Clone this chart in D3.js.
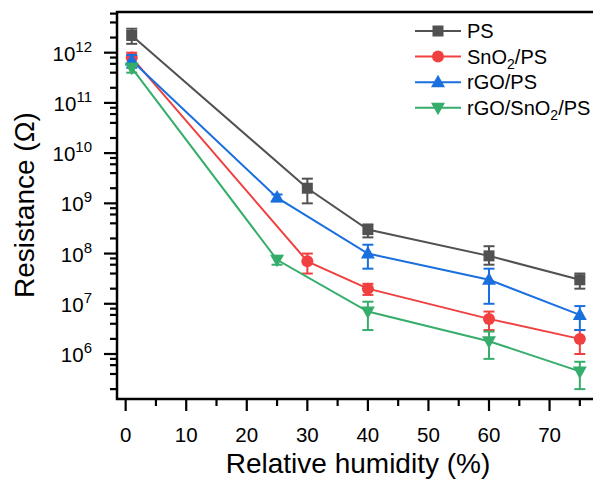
<!DOCTYPE html>
<html lang="en">
<head>
<meta charset="utf-8">
<title>Resistance vs humidity</title>
<script src="https://cdn.jsdelivr.net/npm/d3@7"></script>
<style>
  body { margin: 0; background: #fff; }
  text { font-family: "Liberation Sans", Arial, sans-serif; fill: #000; }
</style>
</head>
<body>
<script>
// humidity values (x) for each series
var humidityA = [1, 30, 40, 60, 75];
var humidityB = [1, 25, 40, 60, 75];

// resistance values and error bar limits (ohm)
var psVal = [2.2e12, 2e9, 3e8, 9e7, 3e7];
var psLo  = [1.5e12, 1e9, 2.1e8, 6e7, 2e7];
var psHi  = [3e12, 3.1e9, 3.8e8, 1.4e8, 4e7];

var snVal = [8e11, 7e7, 2e7, 5e6, 2e6];
var snLo  = [6e11, 4e7, 1.5e7, 3e6, 1e6];
var snHi  = [1e12, 1e8, 2.5e7, 7e6, 3e6];

var rgVal = [7e11, 1.3e9, 1e8, 3e7, 6e6];
var rgLo  = [5e11, 1.1e9, 5e7, 1e7, 3e6];
var rgHi  = [9e11, 1.5e9, 1.5e8, 5e7, 9e6];

var rsVal = [5e11, 7.5e7, 7e6, 1.8e6, 4.5e5];
var rsLo  = [4e11, 6e7, 3e6, 8e5, 2e5];
var rsHi  = [6e11, 9e7, 1.1e7, 2.8e6, 7e5];

var xTicks = [0, 10, 20, 30, 40, 50, 60, 70];
var xMinor = [5, 15, 25, 35, 45, 55, 65, 75];
var yExps = [6, 7, 8, 9, 10, 11, 12];

var series = [
  {name: "PS",          sub: null, x: humidityA, v: psVal, lo: psLo, hi: psHi, color: "#515151", shape: "square"},
  {name: "SnO2/PS",     sub: ["SnO", "2", "/PS"], x: humidityA, v: snVal, lo: snLo, hi: snHi, color: "#F14040", shape: "circle"},
  {name: "rGO/PS",      sub: null, x: humidityB, v: rgVal, lo: rgLo, hi: rgHi, color: "#1A6FDF", shape: "up"},
  {name: "rGO/SnO2/PS", sub: ["rGO/SnO", "2", "/PS"], x: humidityB, v: rsVal, lo: rsLo, hi: rsHi, color: "#37AD6B", shape: "down"}
];

var W = 593, H = 479;
var margin = {left: 117, top: 12, right: 598, bottom: 399};

var svg = d3.select("body").append("svg")
  .attr("width", W).attr("height", H);

var xScale = d3.scaleLinear().domain([-1.43, 78]).range([margin.left, margin.right]);
var yScale = d3.scaleLog().domain([Math.pow(10, 5.104), Math.pow(10, 12.81)]).range([margin.bottom, margin.top]);

// frame
svg.append("rect")
  .attr("x", margin.left).attr("y", margin.top)
  .attr("width", margin.right - margin.left).attr("height", margin.bottom - margin.top)
  .attr("fill", "none").attr("stroke", "#000").attr("stroke-width", 2.5);

// x axis ticks
var xAxisG = svg.append("g").attr("transform", "translate(0," + margin.bottom + ")");
xAxisG.selectAll("line.major").data(xTicks).enter().append("line")
  .attr("x1", function(d) { return xScale(d); })
  .attr("x2", function(d) { return xScale(d); })
  .attr("y1", 0).attr("y2", 12)
  .attr("stroke", "#000").attr("stroke-width", 2.2);
xAxisG.selectAll("line.minor").data(xMinor).enter().append("line")
  .attr("x1", function(d) { return xScale(d); })
  .attr("x2", function(d) { return xScale(d); })
  .attr("y1", 0).attr("y2", 7)
  .attr("stroke", "#000").attr("stroke-width", 2.2);
xAxisG.selectAll("text").data(xTicks).enter().append("text")
  .attr("x", function(d) { return xScale(d); })
  .attr("y", 43)
  .attr("text-anchor", "middle")
  .style("font-size", "20.5px")
  .text(function(d) { return d; });

// y axis ticks (log, minor at 2,4,6,8)
var yMinor = [];
for (var e = 5; e <= 12; e++) {
  [2, 4, 6, 8].forEach(function(m) {
    var v = m * Math.pow(10, e);
    if (v > yScale.domain()[0] && v < yScale.domain()[1]) yMinor.push(v);
  });
}
var yAxisG = svg.append("g").attr("transform", "translate(" + margin.left + ",0)");
yAxisG.selectAll("line.major").data(yExps).enter().append("line")
  .attr("x1", 0).attr("x2", -13)
  .attr("y1", function(d) { return yScale(Math.pow(10, d)); })
  .attr("y2", function(d) { return yScale(Math.pow(10, d)); })
  .attr("stroke", "#000").attr("stroke-width", 2.2);
yAxisG.selectAll("line.minor").data(yMinor).enter().append("line")
  .attr("x1", 0).attr("x2", -7)
  .attr("y1", function(d) { return yScale(d); })
  .attr("y2", function(d) { return yScale(d); })
  .attr("stroke", "#000").attr("stroke-width", 2.2);
var yl = yAxisG.selectAll("text").data(yExps).enter().append("text")
  .attr("x", -25)
  .attr("y", function(d) { return yScale(Math.pow(10, d)) + 8; })
  .attr("text-anchor", "end")
  .style("font-size", "20.5px");
yl.append("tspan").text("10");
yl.append("tspan").attr("dy", -9).style("font-size", "15px")
  .text(function(d) { return d; });

// axis titles
svg.append("text")
  .attr("x", 358).attr("y", 473)
  .attr("text-anchor", "middle")
  .style("font-size", "28px")
  .text("Relative humidity (%)");
svg.append("text")
  .attr("transform", "translate(34,205) rotate(-90)")
  .attr("text-anchor", "middle")
  .style("font-size", "28px")
  .text("Resistance (\u03A9)");

function drawMarker(g, shape, color, cx, cy) {
  if (shape == "square") {
    g.append("rect").attr("x", cx - 5.5).attr("y", cy - 5.5)
      .attr("width", 11).attr("height", 11).attr("fill", color);
  } else if (shape == "circle") {
    g.append("circle").attr("cx", cx).attr("cy", cy).attr("r", 6).attr("fill", color);
  } else if (shape == "up") {
    g.append("path").attr("d", "M" + cx + "," + (cy - 7.5) + "L" + (cx + 7) + "," + (cy + 5) + "L" + (cx - 7) + "," + (cy + 5) + "Z")
      .attr("fill", color);
  } else {
    g.append("path").attr("d", "M" + cx + "," + (cy + 7.5) + "L" + (cx + 7) + "," + (cy - 5) + "L" + (cx - 7) + "," + (cy - 5) + "Z")
      .attr("fill", color);
  }
}

var line = d3.line()
  .x(function(d) { return xScale(d[0]); })
  .y(function(d) { return yScale(d[1]); });

series.forEach(function(s) {
  var g = svg.append("g");
  var pts = s.x.map(function(x, i) { return [x, s.v[i], s.lo[i], s.hi[i]]; });
  g.append("path").attr("d", line(pts))
    .attr("fill", "none").attr("stroke", s.color).attr("stroke-width", 2);
  pts.forEach(function(p) {
    var cx = xScale(p[0]);
    var y1 = yScale(p[2]), y2 = yScale(p[3]);
    g.append("line").attr("x1", cx).attr("x2", cx).attr("y1", y1).attr("y2", y2)
      .attr("stroke", s.color).attr("stroke-width", 2);
    [y1, y2].forEach(function(yy) {
      g.append("line").attr("x1", cx - 5.5).attr("x2", cx + 5.5).attr("y1", yy).attr("y2", yy)
        .attr("stroke", s.color).attr("stroke-width", 2);
    });
    drawMarker(g, s.shape, s.color, cx, yScale(p[1]));
  });
});

// legend
var leg = svg.append("g");
series.forEach(function(s, i) {
  var cy = 31 + i * 25.6;
  leg.append("line").attr("x1", 415).attr("x2", 461).attr("y1", cy).attr("y2", cy)
    .attr("stroke", s.color).attr("stroke-width", 2);
  drawMarker(leg, s.shape, s.color, 438, cy);
  var t = leg.append("text").attr("x", 467).attr("y", cy + 7).style("font-size", "20px");
  if (s.sub) {
    t.append("tspan").text(s.sub[0]);
    t.append("tspan").attr("dy", 5).style("font-size", "14px").text(s.sub[1]);
    t.append("tspan").attr("dy", -5).text(s.sub[2]);
  } else {
    t.text(s.name);
  }
});
</script>
</body>
</html>
